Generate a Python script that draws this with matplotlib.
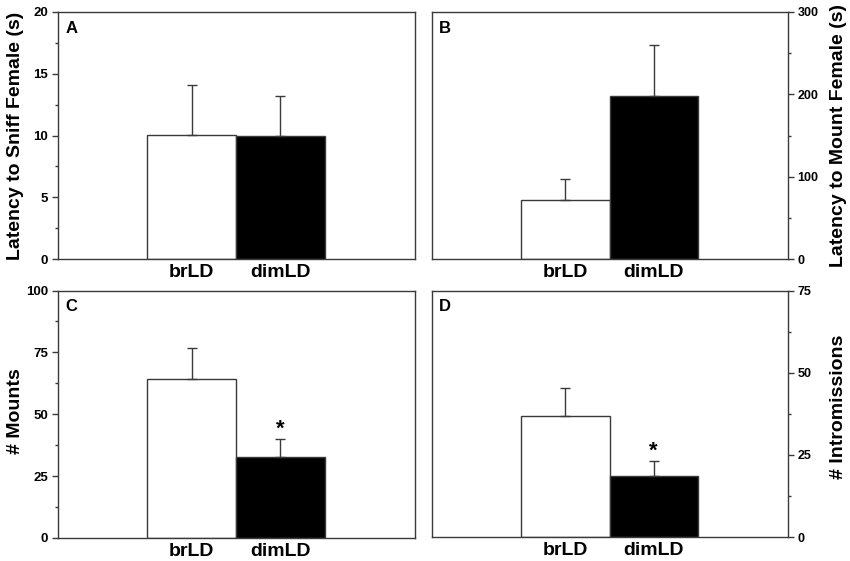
import matplotlib
matplotlib.use("Agg")
import matplotlib.pyplot as plt
import numpy as np
from matplotlib.ticker import MultipleLocator

plt.rcParams['font.family'] = ['Liberation Sans', 'DejaVu Sans']
plt.rcParams['font.weight'] = 'bold'

groups = ["brLD", "dimLD"]

sniff_mean = [10.05, 10.0]
sniff_sem = [4.0, 3.2]

mount_lat_mean = [71.5, 198.0]
mount_lat_sem = [26.0, 62.0]

mounts_mean = [64.2, 32.8]
mounts_sem = [12.4, 7.4]

intro_mean = [36.9, 18.5]
intro_sem = [8.3, 4.7]

panels = [
    dict(letter="A", mean=sniff_mean, sem=sniff_sem, ymax=20, major=5,
         label="Latency to Sniff Female (s)", side="left", star=False, ly=0.5),
    dict(letter="B", mean=mount_lat_mean, sem=mount_lat_sem, ymax=300, major=100,
         label="Latency to Mount Female (s)", side="right", star=False, ly=0.5),
    dict(letter="C", mean=mounts_mean, sem=mounts_sem, ymax=100, major=25,
         label="# Mounts", side="left", star=True, ly=0.513),
    dict(letter="D", mean=intro_mean, sem=intro_sem, ymax=75, major=25,
         label="# Intromissions", side="right", star=True, ly=0.527),
]

positions = [
    [58/850, 1-259/561, 357/850, 247/561],
    [432/850, 1-259/561, 356/850, 247/561],
    [58/850, 1-538/561, 357/850, 247.5/561],
    [432/850, 1-537/561, 356/850, 246.5/561],
]

fig = plt.figure(figsize=(8.5, 5.61), dpi=100)
edge = '#3a3a3a'

for p, pos in zip(panels, positions):
    ax = fig.add_axes(pos)
    x = np.arange(len(groups))
    ax.bar(x, p["mean"], width=1.0, color=['white', 'black'], edgecolor=edge,
           linewidth=1.0, zorder=2)
    ax.errorbar(x, p["mean"], yerr=[np.zeros(len(groups)), p["sem"]], fmt='none',
                ecolor=edge, elinewidth=1.0, capsize=3.5, capthick=1.0, zorder=3)
    if p["star"]:
        ytop = p["mean"][1] + p["sem"][1]
        ax.annotate("*", xy=(x[1], ytop), xytext=(0, -1), textcoords='offset points',
                    ha='center', va='bottom', fontsize=16, fontweight='bold')
    ax.set_xlim(-1.51, 2.52)
    ax.set_ylim(0, p["ymax"])
    ax.yaxis.set_major_locator(MultipleLocator(p["major"]))
    ax.yaxis.set_minor_locator(MultipleLocator(p["major"] / 2))
    ax.set_xticks(x)
    ax.set_xticklabels(groups, fontsize=14, fontweight='bold')
    ax.tick_params(axis='x', length=0, pad=3.5)
    for s in ax.spines.values():
        s.set_color(edge)
        s.set_linewidth(1.0)
    if p["side"] == "right":
        ax.yaxis.tick_right()
        ax.yaxis.set_label_position("right")
        lsize = 9
        lx = 1.143
    else:
        lsize = 9.5
        lx = -0.118
    ax.tick_params(axis='y', which='major', length=4, width=1, color=edge,
                   labelsize=lsize, pad=3)
    ax.tick_params(axis='y', which='minor', length=2.5, width=1, color=edge)
    for lab in ax.get_yticklabels():
        lab.set_fontweight('bold')
    yl = ax.set_ylabel(p["label"], fontsize=14, fontweight='bold')
    ax.yaxis.set_label_coords(lx, p["ly"])
    yl.set_va('center')
    yl.set_ha('center')
    ax.text(0.02, 0.965, p["letter"], transform=ax.transAxes, ha='left', va='top',
            fontsize=12, fontweight='bold')

fig.savefig("out.png", dpi=100)
